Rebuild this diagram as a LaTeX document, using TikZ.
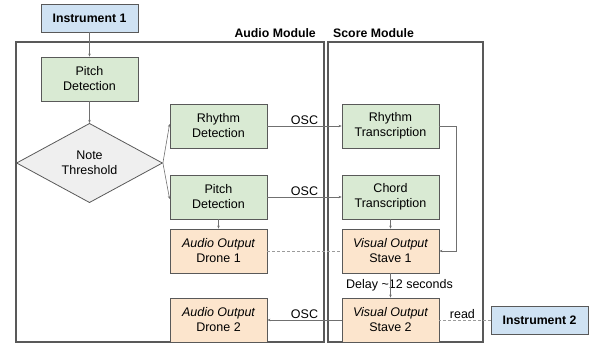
\documentclass[tikz,border=0pt]{standalone}
\usepackage{fontspec}
\setmainfont{Liberation Sans}
\usetikzlibrary{shapes.geometric,arrows.meta}
\definecolor{bluef}{HTML}{CFE2F3}
\definecolor{greenf}{HTML}{D9EAD3}
\definecolor{orangef}{HTML}{FCE5CD}
\definecolor{grayf}{HTML}{EFEFEF}
\definecolor{edge}{HTML}{595959}
\definecolor{conn}{HTML}{707070}
\tikzset{
  txt/.style={font=\fontsize{12.5}{15}\selectfont},
  box/.style={draw=edge, line width=0.8pt, minimum width=97pt, minimum height=44pt, align=center, txt, inner sep=0pt},
  inst/.style={box, fill=bluef, minimum height=28pt, font=\fontsize{12.3}{15}\selectfont\bfseries},
  gbox/.style={box, fill=greenf},
  obox/.style={box, fill=orangef},
  frame/.style={draw=edge, line width=2.2pt},
  conn/.style={draw=conn, line width=0.6pt, -{Stealth[length=3pt,width=2.5pt]}},
  dconn/.style={draw=conn!70, line width=0.6pt, dash pattern=on 3pt off 2pt},
  lab/.style={txt, inner sep=1pt},
  modlab/.style={font=\fontsize{12.3}{15}\selectfont\bfseries, inner sep=0pt}
}
\begin{document}
\begin{tikzpicture}[x=1pt,y=-1pt]
\useasboundingbox (0,0) rectangle (589,345);
% frames
\draw[frame] (16,42) rectangle (324,342);
\draw[frame] (328,42) rectangle (483,342);
\node[modlab, anchor=base east] (am) at (316,38) {Audio Module};
\node[modlab, anchor=base west] (sm) at (333,38) {Score Module};
% nodes
\node[inst] (i1) at (89.5,18) {Instrument 1};
\node[gbox] (pd1) at (89.5,79) {Pitch\\Detection};
\node[draw=edge, line width=0.8pt, fill=grayf, diamond, minimum width=146pt, minimum height=48pt, inner sep=0pt, align=center, txt] (nt) at (89.5,163) {Note\\Threshold};
\node[gbox] (rd) at (218.5,126) {Rhythm\\Detection};
\node[gbox] (pd2) at (218.5,197) {Pitch\\Detection};
\node[obox] (d1) at (218.5,251) {\itshape Audio Output\\Drone 1};
\node[obox] (d2) at (218.5,320) {\itshape Audio Output\\Drone 2};
\node[gbox] (rt) at (390.5,126) {Rhythm\\Transcription};
\node[gbox] (ct) at (390.5,197) {Chord\\Transcription};
\node[obox] (s1) at (390.5,251) {\itshape Visual Output\\Stave 1};
\node[obox] (s2) at (390.5,320) {\itshape Visual Output\\Stave 2};
\node[inst] (i2) at (539.5,320) {Instrument 2};
% connectors
\draw[conn] (i1) -- (pd1);
\draw[conn] (pd1) -- (nt);
\draw[conn] (nt.east) -- ([yshift=2pt]rd.west);
\draw[conn] (nt.east) -- ([yshift=-2pt]pd2.west);
\draw[conn] (rd) -- node[lab, above] {OSC} (rt);
\draw[conn] (pd2) -- node[lab, above] {OSC} (ct);
\draw[conn] (pd2) -- (d1);
\draw[conn] (ct) -- (s1);
\coordinate (c1) at (456,126);
\draw[conn] (rt.east) -- (c1) |- (s1.east);
\draw[dconn] (d1) -- (s1);
\node[lab, inner sep=0pt, anchor=center] (dl) at (399.5,285.5) {Delay \textasciitilde12 seconds};
\draw[conn] (s1) -- (s2);
\draw[conn] (s2) -- node[lab, above] {OSC} (d2);
\draw[dconn] (i2) -- node[lab, above, pos=0.55] {read} (s2);
\end{tikzpicture}
\end{document}
